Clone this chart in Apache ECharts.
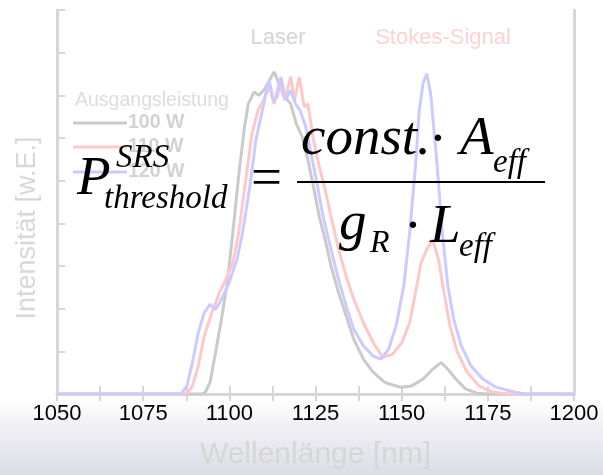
<!DOCTYPE html>
<html>
<head>
<meta charset="utf-8">
<script src="https://cdn.jsdelivr.net/npm/echarts@6/dist/echarts.min.js"></script>
<style>
html,body{margin:0;padding:0;background:#fff;}
#c{width:603px;height:475px;}
</style>
</head>
<body>
<div id="c"></div>
<script>
// ---- data ----
var xTicks = [1050, 1075, 1100, 1125, 1150, 1175, 1200];
var seriesNames = ['100 W', '110 W', '120 W'];

var wl100 = [1050, 1092.0, 1093.0, 1094.4, 1096.0, 1097.7, 1099.4, 1101.0, 1102.7, 1104.4, 1105.5, 1107.2, 1108.5, 1110.0, 1111.6, 1113.0, 1114.4, 1116.1, 1117.8, 1119.4, 1121.1, 1122.8, 1124.4, 1126.1, 1127.8, 1129.5, 1131.7, 1133.9, 1136.1, 1138.9, 1141.7, 1145.1, 1149.5, 1152.9, 1156.2, 1159.0, 1161.5, 1163.4, 1165.7, 1168.5, 1171.8, 1175, 1200];
var int100 = [0, 0, 0.04, 0.27, 0.97, 1.75, 2.6, 3.77, 5.1, 6.26, 6.8, 7.08, 7.0, 7.12, 7.35, 7.55, 7.28, 6.96, 6.8, 6.34, 6.03, 5.49, 4.86, 4.16, 3.62, 3.0, 2.37, 1.83, 1.28, 0.82, 0.51, 0.27, 0.16, 0.19, 0.35, 0.58, 0.74, 0.58, 0.35, 0.12, 0.02, 0, 0];

var wl110 = [1050, 1087.7, 1089.3, 1091.0, 1092.7, 1094.9, 1097.1, 1099.4, 1101.0, 1102.7, 1104.9, 1106.6, 1108.3, 1110.0, 1111.6, 1113.0, 1114.4, 1116.1, 1117.8, 1118.9, 1120.3, 1121.7, 1122.8, 1124.4, 1126.1, 1127.8, 1129.5, 1131.7, 1133.9, 1136.1, 1138.9, 1141.7, 1144.5, 1147.3, 1150.1, 1152.3, 1154.0, 1155.6, 1157.3, 1159.0, 1160.7, 1162.3, 1164.0, 1166.2, 1169.0, 1172.4, 1176.3, 1180.7, 1200];
var int110 = [0, 0, 0.19, 0.66, 1.36, 1.9, 2.37, 2.76, 3.07, 3.77, 5.1, 6.11, 6.65, 6.89, 7.2, 6.8, 7.28, 6.89, 7.43, 6.89, 7.43, 6.73, 6.8, 5.95, 5.33, 4.79, 4.16, 3.39, 2.76, 2.22, 1.67, 1.21, 0.86, 0.93, 1.21, 1.67, 2.37, 3.07, 3.39, 3.62, 3.15, 2.37, 1.6, 0.97, 0.51, 0.19, 0.05, 0, 0];

var wl120 = [1050, 1086.0, 1087.7, 1089.3, 1091.0, 1092.7, 1094.4, 1096.0, 1097.7, 1099.9, 1102.2, 1103.8, 1106.1, 1107.7, 1109.4, 1110.8, 1111.6, 1112.7, 1113.9, 1115.0, 1116.3, 1117.8, 1119.2, 1120.5, 1122.2, 1123.9, 1125.6, 1127.2, 1129.5, 1131.7, 1133.9, 1136.1, 1138.9, 1141.7, 1143.9, 1146.2, 1148.4, 1150.6, 1152.3, 1154.0, 1155.1, 1156.2, 1157.3, 1158.4, 1160.1, 1161.8, 1163.4, 1165.1, 1167.3, 1170.1, 1173.5, 1177.4, 1182.9, 1186, 1200];
var int120 = [0, 0, 0.19, 0.74, 1.44, 1.9, 2.1, 1.98, 2.22, 2.6, 3.15, 3.77, 4.94, 5.95, 6.58, 7.12, 7.35, 6.89, 6.96, 7.43, 6.89, 7.12, 6.8, 6.65, 6.26, 5.56, 4.86, 4.16, 3.39, 2.68, 2.06, 1.52, 1.13, 0.89, 0.82, 1.05, 1.6, 2.53, 3.77, 5.33, 6.65, 7.28, 7.51, 7.04, 5.56, 3.77, 2.53, 1.75, 1.13, 0.66, 0.35, 0.16, 0.04, 0, 0];

function zip(a, b) { var r = []; for (var i = 0; i < a.length; i++) r.push([a[i], b[i]]); return r; }

var colors = ['#cacaca', '#ffc8c8', '#cbcbff'];
var chart = echarts.init(document.getElementById('c'), null, {renderer: 'canvas'});

var frameColor = '#d6d6d6';
var serif = '"Liberation Serif", "Times New Roman", serif';
var sans = '"Liberation Sans", Arial, sans-serif';

function txt(text, x, y, font, fill, align, z) {
  return {type: 'text', z: z || 100, style: {text: text, x: x, y: y, font: font, fill: fill, align: align || 'left', verticalAlign: 'middle', textAlign: align || 'left', textVerticalAlign: 'middle'}};
}

var yTitle = txt('Intensität [w.E.]', 0, 0, '27px ' + sans, '#d8d8d8', 'center', 5);
yTitle.x = 28; yTitle.y = 228; yTitle.rotation = Math.PI / 2;

var graphics = [
  // slide background at the bottom
  {type: 'rect', z: -10, silent: true, shape: {x: 0, y: 398, width: 603, height: 77},
   style: {fill: new echarts.graphic.LinearGradient(0, 0, 0, 1, [
     {offset: 0, color: '#ffffff'}, {offset: 0.35, color: '#f1f1f5'}, {offset: 1, color: '#dcdce6'}])}},
  yTitle,
  // legend
  txt('Ausgangsleistung', 75, 101, '19.5px ' + sans, '#dcdcdc', 'left', 5),
  {type: 'line', z: 5, shape: {x1: 73, y1: 123, x2: 127, y2: 123}, style: {stroke: colors[0], lineWidth: 3}},
  {type: 'line', z: 5, shape: {x1: 73, y1: 147, x2: 127, y2: 147}, style: {stroke: colors[1], lineWidth: 3}},
  {type: 'line', z: 5, shape: {x1: 73, y1: 172, x2: 127, y2: 172}, style: {stroke: colors[2], lineWidth: 3}},
  txt(seriesNames[0], 128, 123, 'bold 19.5px ' + sans, '#d2d2d2', 'left', 5),
  txt(seriesNames[1], 128, 147, 'bold 19.5px ' + sans, '#d2d2d2', 'left', 5),
  txt(seriesNames[2], 128, 172, 'bold 19.5px ' + sans, '#d2d2d2', 'left', 5),
  // peak labels
  txt('Laser', 278, 38, '22px ' + sans, '#d4d4d4', 'center', 5),
  txt('Stokes-Signal', 443, 38, '22px ' + sans, '#ffd2d2', 'center', 5),
  // formula
  txt('P', 77, 180, 'italic 55px ' + serif, '#000', 'left'),
  txt('SRS', 116, 158, 'italic 33px ' + serif, '#000', 'left'),
  txt('threshold', 104, 199, 'italic 33px ' + serif, '#000', 'left'),
  txt('=', 251, 181, '55px ' + serif, '#000', 'left'),
  {type: 'line', z: 100, shape: {x1: 297, y1: 182, x2: 545, y2: 182}, style: {stroke: '#000', lineWidth: 2}},
  txt('const.', 301, 140, 'italic 55px ' + serif, '#000', 'left'),
  txt('\u00B7', 438, 142, '55px ' + serif, '#000', 'center'),
  txt('A', 460, 140, 'italic 55px ' + serif, '#000', 'left'),
  txt('eff', 493, 163, 'italic 33px ' + serif, '#000', 'left'),
  txt('g', 339, 225, 'italic 55px ' + serif, '#000', 'left'),
  txt('R', 370, 244, 'italic 32px ' + serif, '#000', 'left'),
  txt('\u00B7', 413, 229, '55px ' + serif, '#000', 'center'),
  txt('L', 430, 228, 'italic 55px ' + serif, '#000', 'left'),
  txt('eff', 459, 247, 'italic 33px ' + serif, '#000', 'left')
];

var option = {
  backgroundColor: '#ffffff',
  animation: false,
  grid: {left: 57, right: 29, top: 10, bottom: 80, containLabel: false},
  xAxis: [{
    type: 'value', min: 1050, max: 1200, interval: 25, position: 'bottom',
    name: 'Wellenlänge [nm]', nameLocation: 'middle', nameGap: 46,
    nameTextStyle: {color: '#d6d6d6', fontSize: 30, fontFamily: sans},
    axisLine: {show: true, lineStyle: {color: frameColor, width: 3}},
    axisTick: {show: true, inside: true, length: 8, lineStyle: {color: frameColor, width: 2}},
    minorTick: {show: true, splitNumber: 2, length: 8, lineStyle: {color: frameColor, width: 2}},
    axisLabel: {color: '#000', fontSize: 22, fontFamily: sans, margin: 9, formatter: function (v) { return xTicks.indexOf(v) >= 0 ? String(v) : ''; }},
    splitLine: {show: false}
  }, {
    type: 'value', min: 1050, max: 1200, interval: 12.5, position: 'top',
    axisLine: {show: true, lineStyle: {color: frameColor, width: 3}},
    axisTick: {show: true, inside: true, length: 7, lineStyle: {color: frameColor, width: 2}},
    axisLabel: {show: false}, splitLine: {show: false}
  }],
  yAxis: [{
    type: 'value', min: 0, max: 9, interval: 1, position: 'left',
    axisLine: {show: true, lineStyle: {color: frameColor, width: 3}},
    axisTick: {show: true, inside: true, length: 8, lineStyle: {color: frameColor, width: 2}},
    axisLabel: {show: false}, splitLine: {show: false}
  }, {
    type: 'value', min: 0, max: 9, interval: 1, position: 'right',
    axisLine: {show: true, lineStyle: {color: frameColor, width: 3}},
    axisTick: {show: false}, axisLabel: {show: false}, splitLine: {show: false}
  }],
  series: [
    {name: seriesNames[0], type: 'line', data: zip(wl100, int100), showSymbol: false, symbol: 'none', z: 2,
     lineStyle: {color: colors[0], width: 3}, itemStyle: {color: colors[0]}},
    {name: seriesNames[1], type: 'line', data: zip(wl110, int110), showSymbol: false, symbol: 'none', z: 3,
     lineStyle: {color: colors[1], width: 3}, itemStyle: {color: colors[1]}},
    {name: seriesNames[2], type: 'line', data: zip(wl120, int120), showSymbol: false, symbol: 'none', z: 4,
     lineStyle: {color: colors[2], width: 3}, itemStyle: {color: colors[2]}}
  ],
  graphic: graphics
};
chart.setOption(option);
</script>
</body>
</html>
